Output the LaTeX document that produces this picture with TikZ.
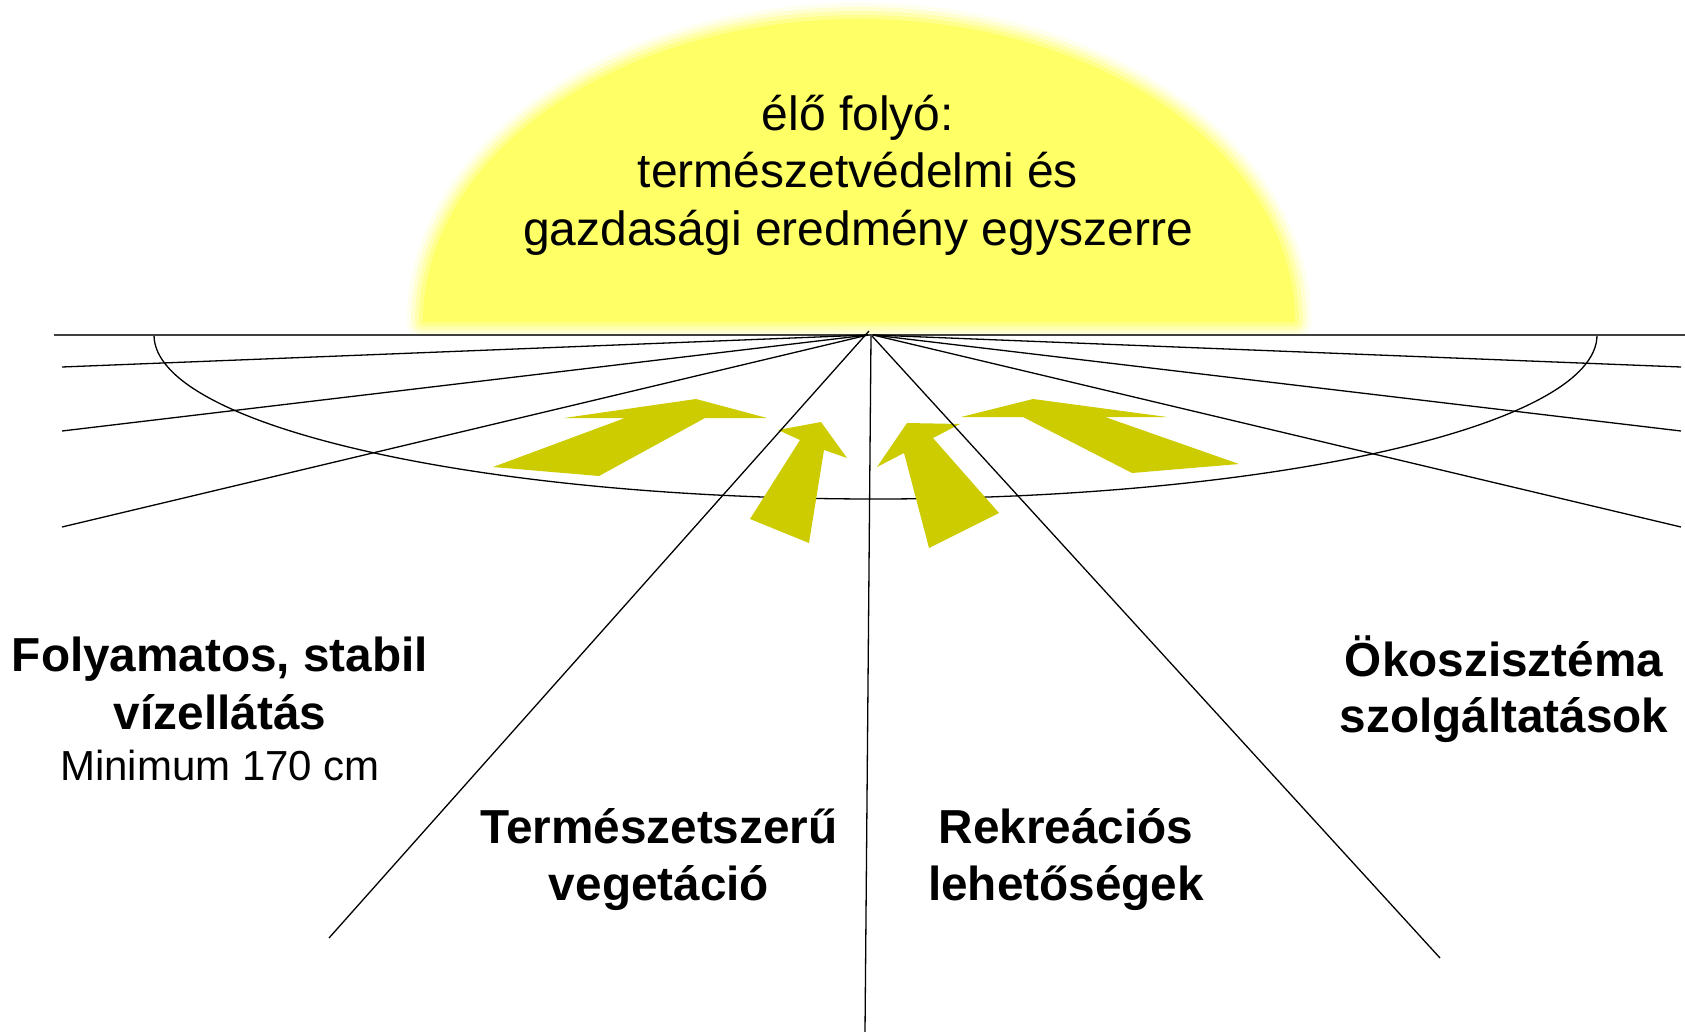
\documentclass[tikz,border=0pt]{standalone}
\usepackage{fontspec}
\setmainfont{Liberation Sans}
\definecolor{sunyellow}{RGB}{255,255,102}
\definecolor{arrowolive}{RGB}{204,204,0}
\begin{document}
\begin{tikzpicture}[x=1pt,y=-1pt,
  ray/.style={draw=black,line width=1.3pt},
  horizonline/.style={draw=black!75,line width=1.6pt},
  bigarrow/.style={fill=arrowolive},
  suntext/.style={anchor=base,inner sep=0pt,font=\fontsize{48}{57}\selectfont},
  labeltext/.style={anchor=base,inner sep=0pt,font=\fontsize{47.7}{57}\selectfont\bfseries},
  smalltext/.style={anchor=base,inner sep=0pt,font=\fontsize{42}{50}\selectfont}]
\useasboundingbox (0,0) rectangle (1685,1032);
\fill[white] (0,0) rectangle (1685,1032);
% sun with soft edge
\begin{scope}
\clip (0,0) rectangle (1685,335);
\def\sunpath{(423,322) arc[start angle=180,end angle=360,x radius=436,y radius=303] -- cycle}
\draw[sunyellow!12,line width=32pt,line join=round] \sunpath;
\draw[sunyellow!30,line width=24pt,line join=round] \sunpath;
\draw[sunyellow!52,line width=16pt,line join=round] \sunpath;
\draw[sunyellow!76,line width=8pt,line join=round] \sunpath;
\fill[sunyellow] \sunpath;
\end{scope}
\node[suntext] (s1) at (858,131) {élő folyó:};
\node[suntext] (s2) at (858,188) {természetvédelmi és};
\node[suntext] (s3) at (858,245) {gazdasági eredmény egyszerre};
% ellipse
\draw[ray] (154,335) arc[start angle=180,end angle=0,x radius=721.5,y radius=164];
% arrows
\fill[bigarrow] (493,467) -- (625,418) -- (564,418) -- (696,399) -- (767,418) -- (705,418) -- (599,476) -- cycle;
\fill[bigarrow] (750,519) -- (800,440) -- (778,430) -- (821,422) -- (847,458) -- (824,450) -- (809,543) -- cycle;
\fill[bigarrow] (877,467) -- (907,423) -- (960,424) -- (933,438) -- (999,513) -- (929,548) -- (904,453) -- cycle;
\fill[bigarrow] (961,417) -- (1033,399) -- (1167,417) -- (1105,417) -- (1239,464) -- (1132,473) -- (1023,417) -- cycle;
% rays
\coordinate (apexL) at (868,335);
\coordinate (apexR) at (873,335);
\coordinate (hl) at (54,335);
\coordinate (hr) at (1685,335);
\coordinate (l1) at (62,367);
\coordinate (l2) at (62,431);
\coordinate (l3) at (62,527);
\coordinate (r1) at (1681,367);
\coordinate (r2) at (1681,431);
\coordinate (r3) at (1681,527);
\coordinate (dtop) at (869,331);
\coordinate (dl) at (329,938);
\coordinate (vtop) at (871,336);
\coordinate (vb) at (865,1032);
\coordinate (drtop) at (872,336);
\coordinate (dr) at (1440,958);
\draw[horizonline] (hl) -- (hr);
\draw[ray] (apexL) -- (l1);
\draw[ray] (apexL) -- (l2);
\draw[ray] (apexL) -- (l3);
\draw[ray] (apexR) -- (r1);
\draw[ray] (apexR) -- (r2);
\draw[ray] (apexR) -- (r3);
\draw[ray] (dtop) -- (dl);
\draw[ray] (vtop) -- (vb);
\draw[ray] (drtop) -- (dr);
% labels
\node[labeltext] (a1) at (220,671) {Folyamatos, stabil};
\node[labeltext] (a2) at (220,729) {vízellátás};
\node[smalltext] (a3) at (220,780) {Minimum 170 cm};
\node[labeltext] (b1) at (659,843) {Természetszerű};
\node[labeltext] (b2) at (659,900) {vegetáció};
\node[labeltext] (c1) at (1066,843) {Rekreációs};
\node[labeltext] (c2) at (1066,900) {lehetőségek};
\node[labeltext] (d1) at (1504,676) {Ökoszisztéma};
\node[labeltext] (d2) at (1504,732) {szolgáltatások};
\end{tikzpicture}
\end{document}
